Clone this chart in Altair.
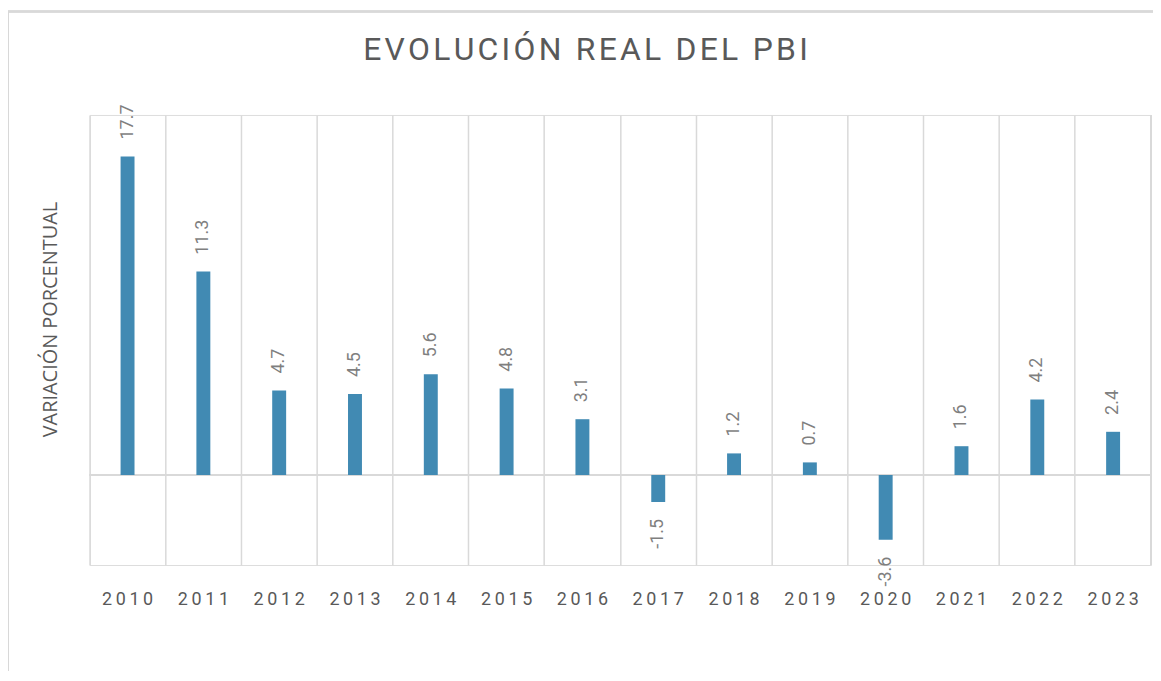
import altair as alt
import pandas as pd

years = ["2010", "2011", "2012", "2013", "2014", "2015", "2016",
         "2017", "2018", "2019", "2020", "2021", "2022", "2023"]
values = [17.7, 11.3, 4.7, 4.5, 5.6, 4.8, 3.1, -1.5, 1.2, 0.7, -3.6, 1.6, 4.2, 2.4]

title_text = "EVOLUCIÓN REAL DEL PBI"
y_title = "VARIACIÓN PORCENTUAL"

HS = "\u200a"
spaced_title = HS.join(title_text)

df = pd.DataFrame({"year": years, "value": values,
                   "label": [f"{v:.1f}" for v in values]})

W = 1066
H = 452
GRID = "#d9d9d9"
TXT = "#595959"

x = alt.X("year:N", sort=years,
          scale=alt.Scale(paddingInner=0, paddingOuter=0),
          axis=alt.Axis(title=None, grid=True, bandPosition=0, gridColor=GRID,
                        gridWidth=1.5, ticks=False, domain=False,
                        labelAngle=0, labelFont="Roboto", labelFontSize=18,
                        labelColor=TXT, labelPadding=26,
                        labelExpr="join(split(datum.label, ''), '\u2009')"))
y = alt.Y("value:Q", scale=alt.Scale(domain=[-5, 20], nice=False, zero=True),
          axis=alt.Axis(title=y_title, labels=False, ticks=False, domain=False,
                        grid=False, titleFont="Open Sans", titleFontSize=20,
                        titleFontWeight="normal", titleColor=TXT,
                        titleX=-33, titleY=205, titleAngle=270,
                        titleBaseline="alphabetic", titleAlign="center"))

base = alt.Chart(df)

bars = base.mark_bar(size=14, color="#418AB3").encode(x=x, y=y)

zero = base.mark_rule(color=GRID, strokeWidth=1.5).encode(y=alt.datum(0))

right_edge = base.mark_rule(color=GRID, strokeWidth=1.5).encode(
    x=alt.value(W), y=alt.value(0), y2=alt.value(H))

border_top = base.mark_rule(color=GRID, strokeWidth=1.5).encode(
    x=alt.value(-82), x2=alt.value(W + 20), y=alt.value(-104))
border_left = base.mark_rule(color=GRID, strokeWidth=1.5).encode(
    x=alt.value(-82), y=alt.value(-104), y2=alt.value(H + 200))

pos_labels = base.transform_filter("datum.value >= 0").mark_text(
    angle=270, align="left", baseline="middle", dx=17,
    font="Roboto", fontSize=18, color="#7f7f7f").encode(
    x=alt.X("year:N", sort=years), y="value:Q", text="label:N")

neg_labels = base.transform_filter("datum.value < 0").mark_text(
    angle=270, align="right", baseline="middle", dx=-17,
    font="Roboto", fontSize=18, color="#7f7f7f").encode(
    x=alt.X("year:N", sort=years), y="value:Q", text="label:N")

chart = alt.layer(border_top, border_left, zero, right_edge, bars,
                  pos_labels, neg_labels).properties(
    width=W, height=H,
    title=alt.TitleParams(spaced_title, font="Roboto", fontSize=32,
                          fontWeight="normal", color=TXT, anchor="middle",
                          frame="group", baseline="alphabetic", offset=52,
                          dx=-35, dy=134),
    padding={"left": 82, "top": 106, "right": 2, "bottom": 105},
    autosize=alt.AutoSizeParams(type="none"),
).configure_view(stroke=None).configure(background="white")

chart.save("out.html", embed_options={"renderer": "svg", "actions": False})
